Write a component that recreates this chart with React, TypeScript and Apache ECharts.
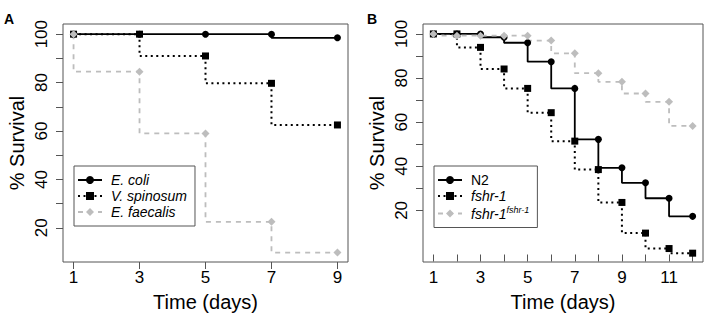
import React, { useEffect, useRef } from "react";
import * as echarts from "echarts";

const FONT = '"Liberation Sans", Arial, Helvetica, sans-serif';

// Panel A
const daysA = [1, 3, 5, 7, 9];
const eColi = [100, 100, 100, 100, 98.5];
const vSpinosum = [100, 100, 91, 79.7, 62.5];
const eFaecalis = [100, 84.5, 59, 22.5, 9.8];
const xTicksA = [1, 3, 5, 7, 9];

// Panel B
const daysB = [1, 2, 3, 4, 5, 6, 7, 8, 9, 10, 11, 12];
const n2 = [100, 100, 100, 98.5, 96, 87.4, 75.3, 52.2, 39.3, 32.5, 25.5, 17.3];
const fshr1 = [100, 100, 93.9, 84.1, 75.3, 64.3, 51.4, 38.5, 23.6, 9.7, 2.7, 0.6];
const fshrRescue = [100, 99.2, 99.2, 99.2, 99.2, 97, 91.2, 82.2, 78.3, 73, 69.2, 58.3];
const xTicksB = [1, 2, 3, 4, 5, 6, 7, 8, 9, 10, 11, 12];
const xLabelsB = [1, 3, 5, 7, 9, 11];

const yTicks = [20, 30, 40, 50, 60, 70, 80, 90, 100];
const yLabels = [20, 40, 60, 80, 100];

const BLACK = "#000000";
const GRAY = "#bdbdbd";
const FRAME = "#555555";

const zip = (xs: number[], ys: number[]) => xs.map((x, i) => [x, ys[i]]);

function makeSeries(name: string, xs: number[], ys: number[], idx: number, kind: number) {
  const styles = [
    { color: BLACK, type: "solid" as any, width: 1.8, symbol: "circle", size: 7 },
    { color: BLACK, type: [2, 3.5] as any, width: 2, symbol: "rect", size: 7 },
    { color: GRAY, type: [5, 5] as any, width: 1.8, symbol: "diamond", size: 8 },
  ][kind];
  return {
    type: "line",
    name,
    xAxisIndex: idx,
    yAxisIndex: idx,
    data: zip(xs, ys),
    step: "start",
    showSymbol: true,
    symbol: styles.symbol,
    symbolSize: styles.size,
    itemStyle: { color: styles.color },
    lineStyle: { color: styles.color, type: styles.type, width: styles.width },
    emphasis: { disabled: true },
  };
}

function xAxis(idx: number, min: number, max: number, ticks: number[], labels: number[]) {
  return {
    type: "value",
    gridIndex: idx,
    min,
    max,
    axisLine: { show: false },
    splitLine: { show: false },
    axisTick: { show: true, length: 7, customValues: ticks, lineStyle: { color: FRAME, width: 1 } },
    axisLabel: { customValues: labels, fontSize: 17, color: BLACK, fontFamily: FONT, margin: 7 },
    name: "Time (days)",
    nameLocation: "middle",
    nameGap: 30,
    nameTextStyle: { fontSize: 20, color: BLACK, fontFamily: FONT },
  };
}

function yAxis(idx: number, min: number, max: number) {
  return {
    type: "value",
    gridIndex: idx,
    min,
    max,
    axisLine: { show: false },
    splitLine: { show: false },
    axisTick: { show: true, length: 7, customValues: yTicks, lineStyle: { color: FRAME, width: 1 } },
    axisLabel: { customValues: yLabels, fontSize: 17, color: BLACK, fontFamily: FONT, rotate: 90, margin: 13 },
    name: "% Survival",
    nameLocation: "middle",
    nameGap: 36,
    nameTextStyle: { fontSize: 20, color: BLACK, fontFamily: FONT },
  };
}

function legend(left: number, top: number, items: any[], formatter?: any) {
  return {
    orient: "vertical",
    left,
    top,
    data: items,
    itemWidth: 24,
    itemHeight: 10,
    itemGap: 2,
    padding: [7, 8, 7, 3],
    borderColor: FRAME,
    borderWidth: 1,
    borderRadius: 0,
    backgroundColor: "#ffffff",
    selectedMode: false,
    formatter,
    textStyle: {
      fontSize: 14,
      lineHeight: 14,
      color: BLACK,
      fontFamily: FONT,
      padding: [0, 0, 0, 4],
      rich: {
        it: { fontSize: 14, fontStyle: "italic", fontFamily: FONT, color: BLACK },
        sup: { fontSize: 9, fontStyle: "italic", fontFamily: FONT, color: BLACK, padding: [0, 0, 8, 0] },
      },
    },
  };
}

export default function App() {
  const ref = useRef<HTMLDivElement>(null);
  useEffect(() => {
    if (!ref.current) return;
    const chart = echarts.init(ref.current, undefined, { renderer: "svg" });
    const option: any = {
      animation: false,
      backgroundColor: "#ffffff",
      textStyle: { fontFamily: FONT },
      grid: [
        { left: 63, top: 24, width: 285, height: 238, show: true, borderColor: FRAME, borderWidth: 1, backgroundColor: "transparent" },
        { left: 423, top: 24, width: 280, height: 238, show: true, borderColor: FRAME, borderWidth: 1, backgroundColor: "transparent" },
      ],
      xAxis: [xAxis(0, 0.68, 9.32, xTicksA, xTicksA), xAxis(1, 0.56, 12.44, xTicksB, xLabelsB)],
      yAxis: [yAxis(0, 5.9, 104.2), yAxis(1, -3.4, 104.5)],
      legend: [
        legend(74, 166, [
          { name: "E. coli", textStyle: { fontStyle: "italic" } },
          { name: "V. spinosum", textStyle: { fontStyle: "italic" } },
          { name: "E. faecalis", textStyle: { fontStyle: "italic" } },
        ]),
        legend(
          434,
          166,
          [
            { name: "N2" },
            { name: "fshr-1", textStyle: { fontStyle: "italic" } },
            { name: "fshr-1 rescue", textStyle: { fontStyle: "italic" } },
          ],
          (name: string) => (name === "fshr-1 rescue" ? "{it|fshr-1}{sup|fshr-1}" : name)
        ),
      ],
      graphic: [
        { type: "text", left: 4, top: 12, style: { text: "A", font: `bold 14px ${FONT}`, fill: BLACK } },
        { type: "text", left: 367, top: 12, style: { text: "B", font: `bold 14px ${FONT}`, fill: BLACK } },
      ],
      series: [
        makeSeries("E. coli", daysA, eColi, 0, 0),
        makeSeries("V. spinosum", daysA, vSpinosum, 0, 1),
        makeSeries("E. faecalis", daysA, eFaecalis, 0, 2),
        makeSeries("N2", daysB, n2, 1, 0),
        makeSeries("fshr-1", daysB, fshr1, 1, 1),
        makeSeries("fshr-1 rescue", daysB, fshrRescue, 1, 2),
      ],
    };
    chart.setOption(option);
    return () => chart.dispose();
  }, []);
  return (
    <div
      ref={ref}
      style={{ position: "fixed", left: 0, top: 0, width: 709, height: 319, background: "#fff" }}
    />
  );
}
